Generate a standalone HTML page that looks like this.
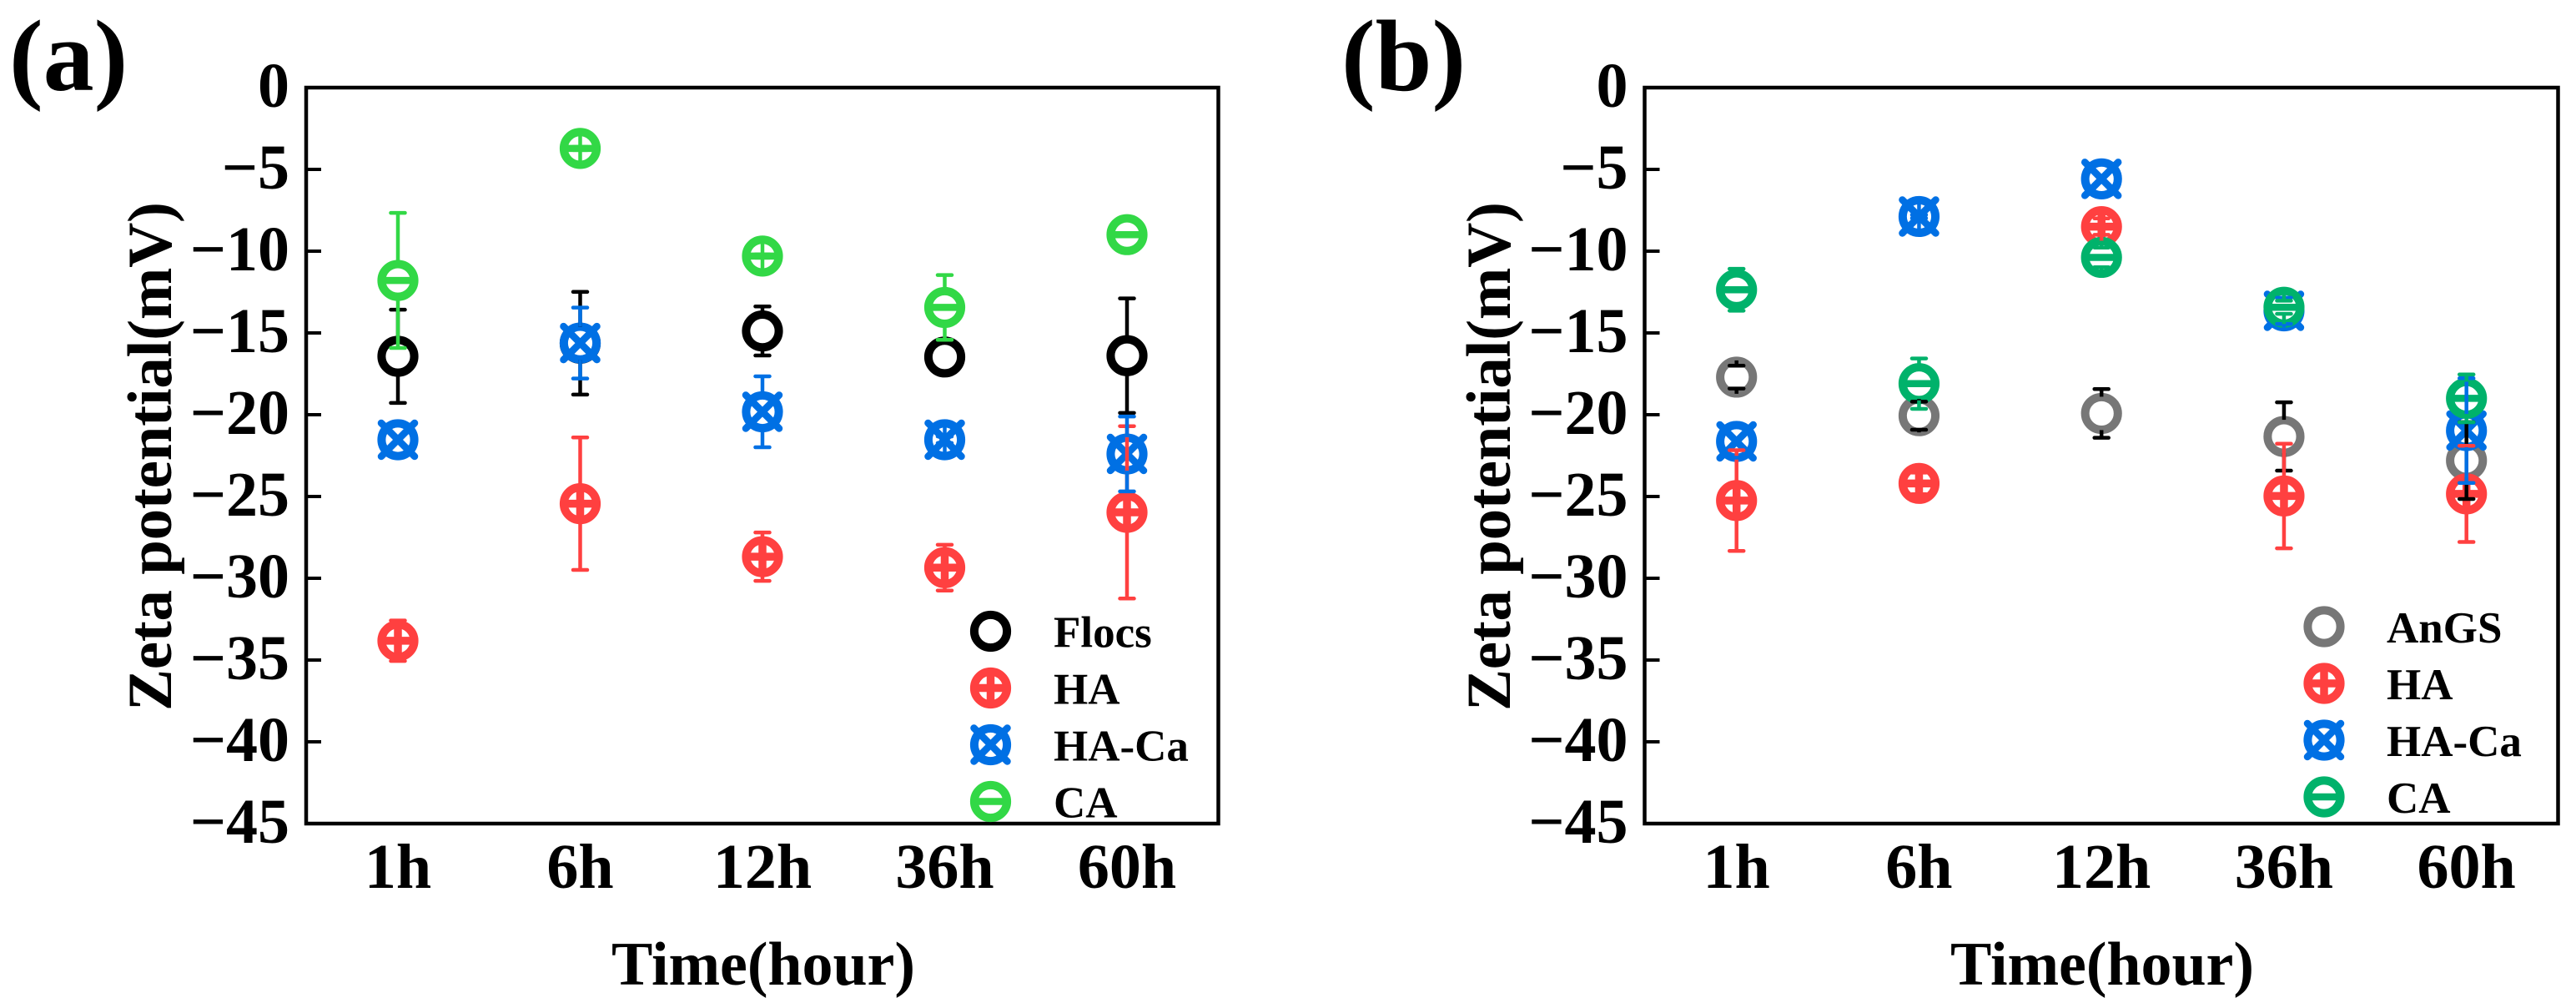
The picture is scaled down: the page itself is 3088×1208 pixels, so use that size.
<!DOCTYPE html>
<html lang="en">
<head>
<meta charset="utf-8">
<title>Zeta potential over time</title>
<style>
html,body{margin:0;padding:0;background:#fff;width:3088px;height:1208px;overflow:hidden}
svg{display:block}
text{font-family:"Liberation Serif",serif;font-weight:bold;fill:#000}
</style>
</head>
<body>
<svg id="figure" xmlns="http://www.w3.org/2000/svg" width="3088" height="1208" viewBox="0 0 3088 1208">
  <rect x="0" y="0" width="3088" height="1208" fill="#fff"/>
  <text x="11" y="108" font-size="122">(a)</text>
  <text x="1608" y="108" font-size="122">(b)</text>
  <text x="915" y="1180" font-size="74" text-anchor="middle" textLength="364" lengthAdjust="spacing">Time(hour)</text>
  <text x="2520" y="1180" font-size="74" text-anchor="middle" textLength="364" lengthAdjust="spacing">Time(hour)</text>
  <text transform="translate(205,547) rotate(-90)" font-size="75" text-anchor="middle" textLength="610" lengthAdjust="spacing">Zeta potential(mV)</text>
  <text transform="translate(1810,547) rotate(-90)" font-size="75" text-anchor="middle" textLength="610" lengthAdjust="spacing">Zeta potential(mV)</text>
  <g id="panel-a"></g>
  <g id="panel-b"></g>
</svg>
<script>
const categories = ['1h', '6h', '12h', '36h', '60h'];
const yTicks = [0, -5, -10, -15, -20, -25, -30, -35, -40, -45];

const panelAFlocs = [-16.43, -15.63, -14.88, -16.47, -16.39];
const panelAFlocsErr = [2.85, 3.14, 1.5, 1.0, 3.5];
const panelAHA = [-33.82, -25.44, -28.68, -29.35, -25.97];
const panelAHAErr = [1.24, 4.05, 1.48, 1.4, 5.27];
const panelAHACa = [-21.53, -15.62, -19.82, -21.53, -22.4];
const panelAHACaErr = [1.0, 2.17, 2.17, 0.2, 2.29];
const panelACA = [-11.79, -3.72, -10.3, -13.44, -8.99];
const panelACAErr = [4.13, 0.1, 0.1, 1.98, 1.0];

const panelBAnGS = [-17.7, -20.06, -19.92, -21.33, -22.8];
const panelBAnGSErr = [0.7, 0.86, 1.49, 2.09, 2.35];
const panelBHA = [-25.25, -24.2, -8.5, -24.97, -24.84];
const panelBHAErr = [3.08, 0.66, 0.5, 3.2, 2.94];
const panelBHACa = [-21.63, -7.88, -5.58, -13.65, -20.97];
const panelBHACaErr = [1.0, 0.1, 1.0, 0.8, 3.2];
const panelBCA = [-12.36, -18.1, -10.38, -13.43, -19.0];
const panelBCAErr = [1.28, 1.54, 0.6, 0.4, 1.46];

const RED = '#ff4040';
const BLUE = '#0070e4';
const LIME = '#32d846';
const TEAL = '#00b26b';
const GRAY = '#777777';
const BLACK = '#000000';
const NS = 'http://www.w3.org/2000/svg';

const yTop = 105;
const yPerUnit = 19.6;
const yBottom = yTop + 45 * yPerUnit;
function yScale(v) { return yTop - v * yPerUnit; }

function make(parent, tag, attrs) {
  const el = document.createElementNS(NS, tag);
  for (const k in attrs) el.setAttribute(k, attrs[k]);
  parent.appendChild(el);
  return el;
}

function drawMarker(parent, cx, cy, kind, color) {
  const g = make(parent, 'g', { transform: 'translate(' + cx + ',' + cy + ')' });
  
  
  make(g, 'circle', { cx: 0, cy: 0, r: 19.6, fill: '#fff', stroke: color, 'stroke-width': 10 });
  if (kind === 'plus') {
    make(g, 'line', { x1: -20, y1: 0, x2: 20, y2: 0, stroke: color, 'stroke-width': 9.5 });
    make(g, 'line', { x1: 0, y1: -20, x2: 0, y2: 20, stroke: color, 'stroke-width': 9.5 });
  } else if (kind === 'cross') {
    make(g, 'line', { x1: -20, y1: -20, x2: 20, y2: 20, stroke: color, 'stroke-width': 8.5, 'stroke-linecap': 'round' });
    make(g, 'line', { x1: -20, y1: 20, x2: 20, y2: -20, stroke: color, 'stroke-width': 8.5, 'stroke-linecap': 'round' });
  } else if (kind === 'minus') {
    make(g, 'line', { x1: -20, y1: 0, x2: 20, y2: 0, stroke: color, 'stroke-width': 8.5 });
  }
  return g;
}

function drawError(parent, cx, value, err, color) {
  const g = make(parent, 'g', {});
  
  
  const cy = yScale(value);
  const gap = 20;
  const px = err * yPerUnit;
  [-1, 1].forEach(function (dir) {
    make(g, 'line', { x1: cx, y1: cy + dir * gap, x2: cx, y2: cy + dir * px, stroke: color, 'stroke-width': 4.5 });
    make(g, 'line', { x1: cx - 8.5, y1: cy + dir * px, x2: cx + 8.5, y2: cy + dir * px, stroke: color, 'stroke-width': 4.5, 'stroke-linecap': 'round' });
  });
}

function drawPanel(rootId, axisLeft, axisRight, firstX, stepX, series, legendX, legendTextX, legendY) {
  const root = document.getElementById(rootId);
  const xScale = function (i) { return firstX + i * stepX; };

  const frame = make(root, 'rect', { x: axisLeft, y: yTop, width: axisRight - axisLeft, height: yBottom - yTop, fill: 'none', stroke: '#000', 'stroke-width': 4.5 });
  
  

  yTicks.forEach(function (t) {
    const y = yScale(t);
    const tick = make(root, 'line', { x1: axisLeft, y1: y, x2: axisLeft + 18, y2: y, stroke: '#000', 'stroke-width': 4 });
    
    
    const label = make(root, 'text', { x: axisLeft - 20, y: y + 23, 'font-size': 76, 'text-anchor': 'end' });
    
    
    label.textContent = t === 0 ? '0' : '\u2212' + Math.abs(t);
  });

  categories.forEach(function (c, i) {
    const label = make(root, 'text', { x: xScale(i), y: 1064, 'font-size': 76, 'text-anchor': 'middle' });
    
    
    label.textContent = c;
  });

  series.forEach(function (s) {
    s.values.forEach(function (v, i) {
      drawMarker(root, xScale(i), yScale(v), s.marker, s.color);
    });
  });
  series.forEach(function (s) {
    s.values.forEach(function (v, i) {
      drawError(root, xScale(i), v, s.errors[i], s.errColor);
    });
  });

  series.forEach(function (s, i) {
    const y = legendY + i * 68;
    const g = make(root, 'g', {});
    
    
    drawMarker(g, legendX, y, s.marker, s.color);
    const t = make(g, 'text', { x: legendTextX, y: y + 19, 'font-size': 53 });
    
    
    t.textContent = s.name;
  });
}

drawPanel('panel-a', 367, 1460.5, 477, 218.5, [
  { name: 'Flocs', marker: 'ring', color: BLACK, errColor: BLACK, values: panelAFlocs, errors: panelAFlocsErr },
  { name: 'HA', marker: 'plus', color: RED, errColor: RED, values: panelAHA, errors: panelAHAErr },
  { name: 'HA-Ca', marker: 'cross', color: BLUE, errColor: BLUE, values: panelAHACa, errors: panelAHACaErr },
  { name: 'CA', marker: 'minus', color: LIME, errColor: LIME, values: panelACA, errors: panelACAErr }
], 1187.5, 1263, 756.5);

drawPanel('panel-b', 1971.5, 3066.5, 2081.7, 218.75, [
  { name: 'AnGS', marker: 'ring', color: GRAY, errColor: BLACK, values: panelBAnGS, errors: panelBAnGSErr },
  { name: 'HA', marker: 'plus', color: RED, errColor: RED, values: panelBHA, errors: panelBHAErr },
  { name: 'HA-Ca', marker: 'cross', color: BLUE, errColor: BLUE, values: panelBHACa, errors: panelBHACaErr },
  { name: 'CA', marker: 'minus', color: TEAL, errColor: TEAL, values: panelBCA, errors: panelBCAErr }
], 2786, 2861, 751);
</script>
</body>
</html>
